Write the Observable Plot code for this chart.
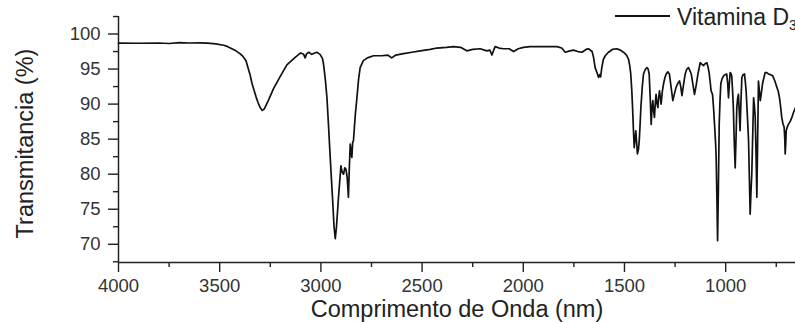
<!DOCTYPE html>
<html><head><meta charset="utf-8">
<script src="https://cdn.jsdelivr.net/npm/d3@7"></script>
<script src="https://cdn.jsdelivr.net/npm/@observablehq/plot@0.6"></script>
<style>
html,body{margin:0;padding:0;background:#fff;overflow:hidden;}
#chart svg{display:block;overflow:visible;}
</style></head><body><div id="chart"></div>
<script>
const wavenumber = [4000,3900,3800,3750,3700,3650,3600,3560,3520,3480,3460,3440,3420,3400,3385,3370,3360,3350,3340,3320,3310,3300,3290,3280,3260,3234,3200,3168,3130,3100,3085,3078,3070,3060,3045,3030,3020,3004,2992,2987,2978,2970,2962,2954,2941,2935,2929,2923,2913,2901,2895,2888,2882,2876,2870,2864,2860,2855,2850,2847,2843,2839,2830,2822,2814,2806,2790,2770,2740,2700,2670,2650,2630,2592,2550,2509,2460,2427,2380,2345,2310,2279,2250,2213,2180,2165,2155,2145,2139,2120,2098,2070,2048,2025,1999,1966,1900,1834,1810,1793,1770,1752,1730,1710,1690,1678,1660,1653,1645,1636,1628,1623,1618,1612,1604,1595,1579,1560,1538,1520,1505,1490,1480,1474,1469,1464,1460,1456,1452,1448,1444,1440,1436,1431,1427,1423,1419,1412,1406,1398,1389,1383,1378,1373,1368,1364,1360,1356,1352,1348,1344,1340,1335,1331,1327,1323,1319,1313,1307,1300,1294,1286,1278,1270,1261,1253,1245,1236,1228,1222,1216,1208,1200,1192,1184,1177,1170,1162,1154,1145,1137,1130,1126,1118,1110,1100,1093,1087,1081,1076,1072,1068,1065,1060,1055,1050,1047,1043,1040,1036,1032,1028,1024,1018,1011,1003,995,990,986,982,978,974,970,966,962,958,953,949,945,941,937,933,929,925,920,914,907,903,899,893,887,883,879,875,871,866,862,858,854,850,846,842,838,833,829,824,818,811,805,797,789,778,767,757,747,740,734,728,723,717,711,708,706,703,701,695,690,680,673,665,655];
const transmittance = [98.7,98.68,98.72,98.65,98.78,98.72,98.75,98.7,98.6,98.4,98.2,97.9,97.6,97.2,96.8,96.2,95.2,94.2,92.9,91.0,90.2,89.5,89.1,89.3,90.5,92.2,94.0,95.6,96.6,97.3,97.1,96.6,97.2,97.4,97.1,97.3,97.4,97.1,96.5,95.7,93.5,90.9,86.8,82.4,75.8,72.5,70.8,72.5,76.7,81.2,80.3,80.0,80.9,80.7,79.5,76.7,80.5,84.3,83.0,82.4,84.5,84.8,88.5,90.9,93.5,95.2,96.2,96.6,96.9,96.9,97.0,96.6,97.0,97.2,97.4,97.6,97.8,98.0,98.1,98.2,98.1,97.6,97.8,97.9,97.6,97.7,97.0,97.8,98.2,98.0,97.9,97.9,97.5,97.9,98.1,98.2,98.2,98.2,98.0,97.4,97.6,97.7,97.5,97.4,97.8,97.9,97.5,96.7,95.2,94.5,93.8,94.2,93.9,95.2,96.4,96.9,97.4,97.8,97.9,97.7,97.4,97.0,96.4,95.5,94.3,92.0,89.5,86.5,83.8,85.0,86.2,84.5,82.9,83.5,84.8,87.0,89.5,92.5,94.3,94.9,95.2,95.0,94.3,91.0,87.1,89.5,90.5,89.0,88.1,90.0,91.4,90.2,89.5,91.0,91.9,91.0,90.0,91.8,92.9,93.8,94.3,94.6,94.3,92.5,90.5,91.5,92.4,93.0,93.3,92.5,91.2,92.8,94.3,95.0,95.2,94.8,94.3,92.8,91.4,92.8,94.3,95.3,95.9,95.7,95.5,95.8,95.9,95.3,94.3,93.0,91.9,91.6,91.4,89.5,87.1,84.5,82.4,76.0,70.5,78.0,87.1,90.5,92.9,93.6,94.0,94.2,94.3,93.0,90.9,92.8,94.5,94.4,94.0,92.0,89.5,85.0,80.9,85.0,89.5,90.8,91.4,89.0,86.2,90.0,93.8,94.2,94.3,93.2,91.9,88.5,84.8,79.5,74.3,77.5,80.0,86.0,90.9,89.8,88.1,83.0,76.7,85.0,93.3,91.8,90.5,91.5,92.9,93.8,94.5,94.5,94.3,94.2,94.0,93.3,92.4,91.8,90.9,89.5,88.1,87.2,86.7,85.0,82.9,84.5,86.2,86.8,87.1,87.6,88.1,88.8,89.5];
const xTicks = [4000,3500,3000,2500,2000,1500,1000];
const xMinorTicks = [3750,3250,2750,2250,1750,1250,750];
const yTicks = [70,75,80,85,90,95,100];
const yMinorTicks = [67.5,72.5,77.5,82.5,87.5,92.5,97.5,102.5];
const xDomain = [4000, 655];
const yDomain = [67.4, 102.5];
const seriesName = "Vitamina D";
const seriesSub = "3";
const xLabel = "Comprimento de Onda (nm)";
const yLabel = "Transmitancia (%)";

const data = wavenumber.map((w, i) => ({w, t: transmittance[i]}));
const font = "'Liberation Sans', Arial, Helvetica, sans-serif";
const plain = d3.format("d");

const chart = Plot.plot({
  width: 795, height: 322,
  marginLeft: 118, marginRight: 0, marginTop: 16, marginBottom: 60,
  style: {fontFamily: font, background: "#fff", overflow: "visible"},
  x: {domain: xDomain, label: null},
  y: {domain: yDomain, label: null},
  marks: [
    Plot.axisX(xTicks, {tickSize: 10, tickPadding: 6, fontSize: 18.5, tickFormat: plain, color: "#333", stroke: "#222", strokeWidth: 1.4, label: null}),
    Plot.axisX(xMinorTicks, {tickSize: 5, tickFormat: () => "", stroke: "#222", strokeWidth: 1.4, label: null}),
    Plot.axisY(yTicks, {tickSize: 10, tickPadding: 8, fontSize: 18.5, tickFormat: plain, color: "#333", stroke: "#222", strokeWidth: 1.4, label: null}),
    Plot.axisY(yMinorTicks, {tickSize: 5, tickFormat: () => "", stroke: "#222", strokeWidth: 1.4, label: null}),
    Plot.ruleX([xDomain[0]], {stroke: "#222", strokeWidth: 1.5}),
    Plot.ruleY([yDomain[0]], {stroke: "#222", strokeWidth: 1.5}),
    Plot.line(data, {x: "w", y: "t", stroke: "#111", strokeWidth: 1.7}),
    Plot.text([xLabel], {frameAnchor: "bottom", textAnchor: "middle", dy: 47, fontSize: 23.5, fill: "#222", lineAnchor: "middle"}),
    Plot.text([yLabel], {frameAnchor: "left", textAnchor: "middle", rotate: -90, dx: -93, dy: 4, fontSize: 23.5, fill: "#222", lineAnchor: "middle"})
  ]
});
document.getElementById("chart").appendChild(chart);

// legend
const svg = d3.select(chart);
const lg = svg.append("g").attr("class", "legend");
lg.append("line").attr("x1", 615).attr("x2", 670).attr("y1", 16).attr("y2", 16)
  .attr("stroke", "#111").attr("stroke-width", 2);
const lt = lg.append("text").attr("x", 677).attr("y", 25).attr("text-anchor", "start")
  .attr("font-family", font).attr("font-size", 23).attr("fill", "#222").text(seriesName);
lt.append("tspan").attr("font-size", 14).attr("dy", 5).text(seriesSub);
</script></body></html>
